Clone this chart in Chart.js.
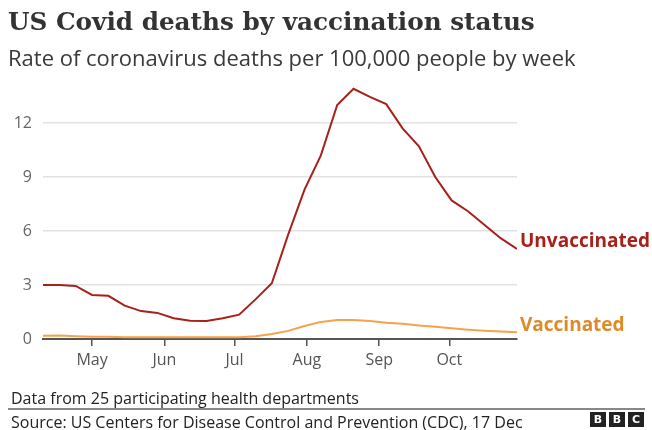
<!DOCTYPE html>
<html>
<head>
<meta charset="utf-8">
<script src="https://cdn.jsdelivr.net/npm/chart.js@4"></script>
<style>
  html, body { margin: 0; padding: 0; background: #fff; }
  body { width: 652px; height: 430px; position: relative; overflow: hidden; }
  #wrap { position: absolute; left: 0; top: 0; width: 652px; height: 430px; }
  .t { position: absolute; white-space: nowrap; line-height: 1; }
  #title { left: 8px; top: 7px; font: bold 24.7px "DejaVu Serif", serif; color: #333; }
  #sub { left: 8px; top: 42px; font: 22px "Open Sans", sans-serif; color: #3a3a3a; }
  #note { left: 11px; top: 387px; font: 16px "Open Sans", sans-serif; color: #222; }
  #rule { position: absolute; left: 8px; top: 408px; width: 637px; height: 1.5px; background: #888; }
  #src { left: 11px; top: 411px; font: 16px "Open Sans", sans-serif; color: #222; }
  #bbc { position: absolute; left: 590px; top: 412px; }
  #bbc span { float: left; width: 16px; height: 15px; background: #222; color: #fff;
    font: bold 11px "DejaVu Sans", sans-serif; text-align: center; line-height: 15px; margin-right: 3px; }
</style>
</head>
<body>
<div id="wrap"><canvas id="chart" width="652" height="430"></canvas></div>
<div class="t" id="title">US Covid deaths by vaccination status</div>
<div class="t" id="sub">Rate of coronavirus deaths per 100,000 people by week</div>
<div class="t" id="note">Data from 25 participating health departments</div>
<div id="rule"></div>
<div class="t" id="src">Source: US Centers for Disease Control and Prevention (CDC), 17 Dec</div>
<div id="bbc"><span>B</span><span>B</span><span>C</span></div>
<script>
// Weekly data points (2021)
const weeks = [
  '2021-04-10', '2021-04-17', '2021-04-24', '2021-05-01', '2021-05-08', '2021-05-15',
  '2021-05-22', '2021-05-29', '2021-06-05', '2021-06-12', '2021-06-19', '2021-06-26',
  '2021-07-03', '2021-07-10', '2021-07-17', '2021-07-24', '2021-07-31', '2021-08-07',
  '2021-08-14', '2021-08-21', '2021-08-28', '2021-09-04', '2021-09-11', '2021-09-18',
  '2021-09-25', '2021-10-02', '2021-10-09', '2021-10-16', '2021-10-23', '2021-10-30'
];
const unvaccinated = [
  3.0, 3.0, 2.95, 2.45, 2.4, 1.85, 1.55, 1.45, 1.15, 1.02,
  1.0, 1.15, 1.35, 2.2, 3.1, 5.8, 8.3, 10.2, 13.0, 13.9,
  13.45, 13.05, 11.7, 10.7, 9.0, 7.7, 7.1, 6.35, 5.6, 5.0
];
const vaccinated = [
  0.18, 0.2, 0.15, 0.12, 0.12, 0.1, 0.1, 0.1, 0.1, 0.1,
  0.1, 0.1, 0.1, 0.15, 0.28, 0.45, 0.72, 0.95, 1.05, 1.05,
  1.0, 0.9, 0.85, 0.75, 0.68, 0.6, 0.52, 0.46, 0.42, 0.38
];
const monthTicks = ['2021-05-01', '2021-06-01', '2021-07-01', '2021-08-01', '2021-09-01', '2021-10-01'];
const monthLabels = ['May', 'Jun', 'Jul', 'Aug', 'Sep', 'Oct'];
const yTicks = [0, 3, 6, 9, 12];

const RED = '#a8201a';
const ORANGE = '#f6a24a';
const ORANGE_TXT = '#de8a26';

const day0 = Date.parse(weeks[0]);
const toDay = d => (Date.parse(d) - day0) / 86400000;

const endLabels = {
  id: 'endLabels',
  afterDatasetsDraw(chart) {
    const ctx = chart.ctx;
    ctx.save();
    ctx.font = 'bold 19px "Open Sans", sans-serif';
    ctx.textBaseline = 'middle';
    chart.data.datasets.forEach((ds, i) => {
      const pts = chart.getDatasetMeta(i).data;
      const p = pts[pts.length - 1];
      ctx.fillStyle = ds.labelColor;
      ctx.fillText(ds.label, p.x + 3, p.y - 7);
    });
    ctx.restore();
  }
};

new Chart(document.getElementById('chart'), {
  type: 'line',
  data: {
    datasets: [
      {
        label: 'Unvaccinated',
        data: weeks.map((w, i) => ({ x: toDay(w), y: unvaccinated[i] })),
        borderColor: RED,
        labelColor: RED,
        borderWidth: 2,
        pointRadius: 0,
        tension: 0
      },
      {
        label: 'Vaccinated',
        data: weeks.map((w, i) => ({ x: toDay(w), y: vaccinated[i] })),
        borderColor: ORANGE,
        labelColor: ORANGE_TXT,
        borderWidth: 2,
        pointRadius: 0,
        tension: 0
      }
    ]
  },
  options: {
    responsive: false,
    animation: false,
    layout: { padding: { left: 0, right: 135, top: 87, bottom: 61 } },
    plugins: { legend: { display: false }, tooltip: { enabled: false } },
    scales: {
      x: {
        type: 'linear',
        min: 0,
        max: toDay(weeks[weeks.length - 1]),
        afterBuildTicks: s => { s.ticks = monthTicks.map(m => ({ value: toDay(m) })); },
        afterFit: s => { s.height = 30; },
        ticks: {
          callback: (v, i) => monthLabels[i],
          color: '#555',
          font: { size: 16, family: '"Open Sans", sans-serif' },
          padding: 5,
          maxRotation: 0,
          autoSkip: false
        },
        grid: { drawOnChartArea: false, drawTicks: true, tickLength: 7, color: '#555', lineWidth: 1.5 },
        border: { color: '#555', width: 2 }
      },
      y: {
        min: 0,
        max: 14,
        afterBuildTicks: s => { s.ticks = yTicks.map(v => ({ value: v })); },
        afterFit: s => { s.width = 43; },
        ticks: {
          color: '#666',
          font: { size: 16, family: '"Open Sans", sans-serif' },
          padding: 11
        },
        grid: { drawTicks: false, color: c => c.tick && c.tick.value === 0 ? 'rgba(0,0,0,0)' : '#e2e2e2', lineWidth: 1.5 },
        border: { display: false }
      }
    }
  },
  plugins: [endLabels]
});
</script>
</body>
</html>
